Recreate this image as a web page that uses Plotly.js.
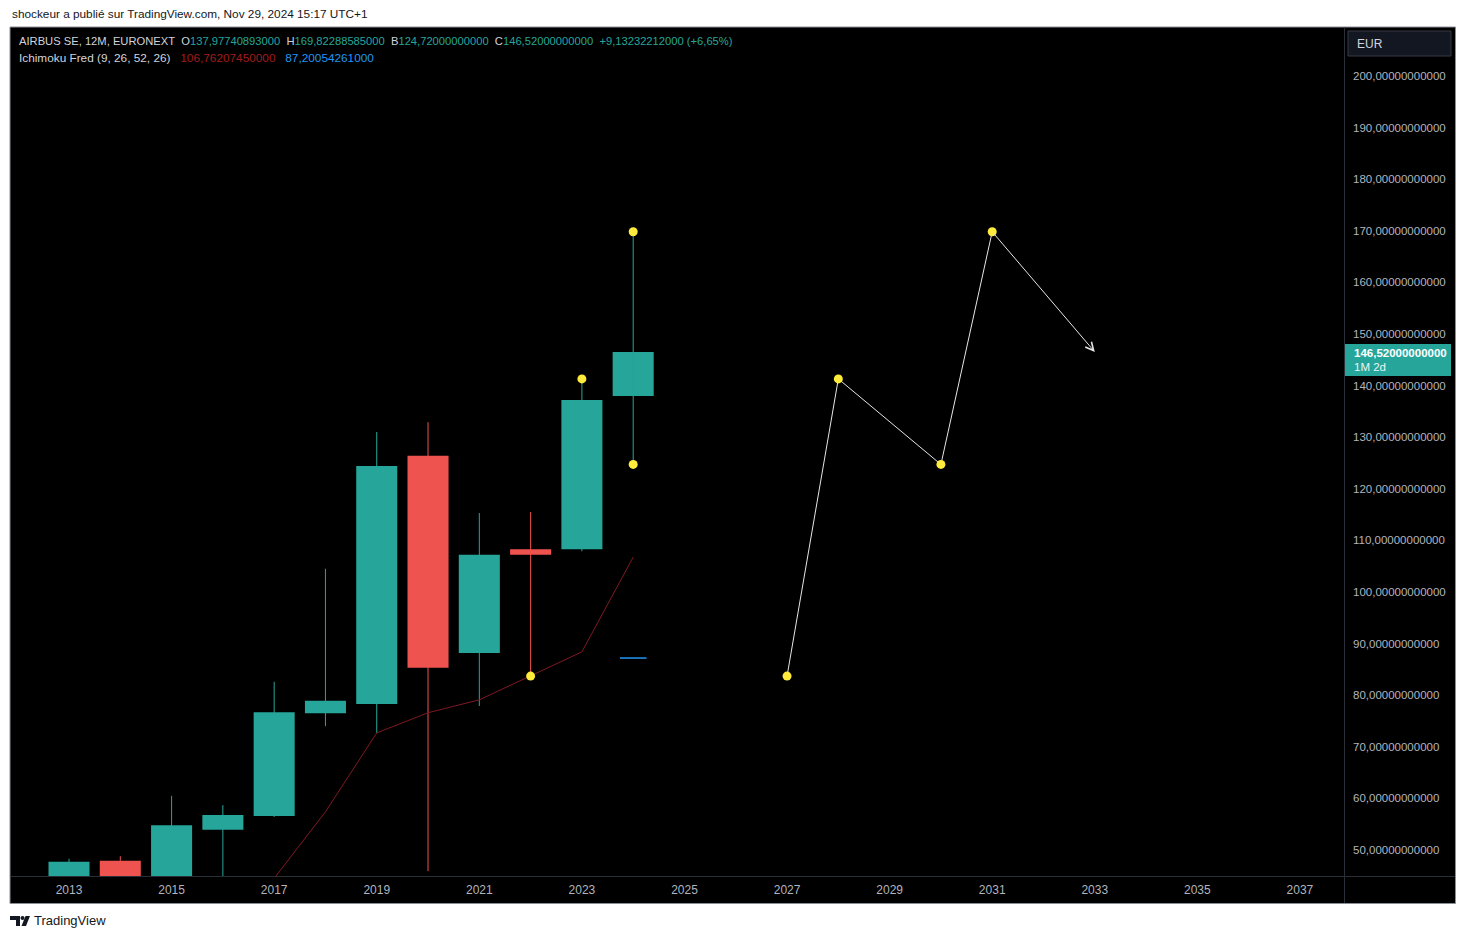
<!DOCTYPE html>
<html>
<head>
<meta charset="utf-8">
<script src="https://cdn.plot.ly/plotly-3.0.1.min.js"></script>
<style>
html,body{margin:0;padding:0;background:#fff;}
#chart{width:1466px;height:939px;}
</style>
</head>
<body>
<div id="chart"></div>
<script>
// ---- data ----
const years   = [2013, 2014, 2015, 2016, 2017, 2018, 2019, 2020, 2021, 2022, 2023, 2024];
const opens   = [30.0, 47.9, 41.5, 53.9, 56.6, 76.5, 78.3, 126.4, 88.2, 108.3, 108.3, 137.98];
const highs   = [48.3, 48.8, 60.5, 58.7, 82.6, 104.5, 131.0, 132.9, 115.3, 115.5, 141.3, 169.82];
const lows    = [28.0, 38.5, 38.0, 40.0, 56.4, 74.0, 72.7, 45.9, 77.9, 83.7, 107.9, 124.72];
const closes  = [47.7, 41.5, 54.8, 56.8, 76.7, 78.9, 124.4, 85.3, 107.2, 107.2, 137.2, 146.52];

const tenkanYears = [2017, 2018, 2019, 2020, 2021, 2022, 2023, 2024];
const tenkan      = [44.5, 57.4, 72.7, 76.6, 79.1, 83.7, 88.4, 106.76];
const kijunYears  = [2024];
const kijun       = [87.2];

const pivotYears  = [2022, 2023, 2024, 2024];
const pivotValues = [83.7, 141.3, 169.82, 124.72];

const projYears   = [2027, 2028, 2030, 2031];
const projValues  = [83.7, 141.3, 124.72, 169.82];
const projEndYear = 2033;
const projEnd     = 146.52;

const xTickVals   = [2013, 2015, 2017, 2019, 2021, 2023, 2025, 2027, 2029, 2031, 2033, 2035, 2037];
const xTickLabels = ['2013','2015','2017','2019','2021','2023','2025','2027','2029','2031','2033','2035','2037'];
const yTickVals   = [50, 60, 70, 80, 90, 100, 110, 120, 130, 140, 150, 160, 170, 180, 190, 200];
const yTickLabels = ['50,00000000000','60,00000000000','70,00000000000','80,00000000000','90,00000000000',
  '100,00000000000','110,00000000000','120,00000000000','130,00000000000','140,00000000000',
  '150,00000000000','160,00000000000','170,00000000000','180,00000000000','190,00000000000','200,00000000000'];

// ---- styles ----
const UP = '#26a69a', DOWN = '#ef5350';
const FONT = 'Liberation Sans, Arial, sans-serif';
const L = 11, R = 1344, T = 28, B = 876;
const px = x => (x - L) / (R - L);
const py = y => (B - y) / (B - T);

// candle bodies
const bodyBase = [], bodyLen = [], bodyCol = [];
for (let i = 0; i < years.length; i++) {
  const up = closes[i] >= opens[i];
  bodyBase.push(Math.min(opens[i], closes[i]));
  bodyLen.push(Math.max(Math.abs(closes[i] - opens[i]), 0.15));
  bodyCol.push(up ? UP : DOWN);
}
// wicks
const wUpX = [], wUpY = [], wDnX = [], wDnY = [];
for (let i = 0; i < years.length; i++) {
  const up = closes[i] >= opens[i];
  (up ? wUpX : wDnX).push(years[i], years[i], null);
  (up ? wUpY : wDnY).push(lows[i], highs[i], null);
}

const traces = [
  {type:'scatter', mode:'lines', x:wUpX, y:wUpY, line:{color:UP, width:1}, hoverinfo:'skip'},
  {type:'scatter', mode:'lines', x:wDnX, y:wDnY, line:{color:DOWN, width:1}, hoverinfo:'skip'},
  {type:'bar', x:years, y:bodyLen, base:bodyBase, width:0.8, marker:{color:bodyCol, line:{width:0}}, hoverinfo:'skip'},
  {type:'scatter', mode:'lines', x:tenkanYears, y:tenkan, line:{color:'#801922', width:1}, hoverinfo:'skip'},
  {type:'scatter', mode:'markers', x:kijunYears, y:kijun, marker:{symbol:'line-ew', size:19, line:{color:'#2196f3', width:1.5}}, hoverinfo:'skip'},
  {type:'scatter', mode:'lines', x:projYears, y:projValues, line:{color:'#e6e6e6', width:1}, hoverinfo:'skip'},
  {type:'scatter', mode:'markers', x:pivotYears.concat(projYears), y:pivotValues.concat(projValues),
   marker:{color:'#ffeb3b', size:9, line:{width:0}}, hoverinfo:'skip'}
];

const sp = '\u00a0';
const g = s => `<span style="color:#d1d4dc">${s}</span>`;
const t = s => `<span style="color:${UP}">${s}</span>`;
const line1 = g('AIRBUS SE, 12M, EURONEXT' + sp + sp + 'O') + t('137,97740893000') + sp + sp +
  g('H') + t('169,82288585000') + sp + sp + g('B') + t('124,72000000000') + sp + sp +
  g('C') + t('146,52000000000') + sp + sp + t('+9,13232212000 (+6,65%)');
const line2 = g('Ichimoku Fred (9, 26, 52, 26)') + sp + sp + sp +
  '<span style="color:#a01c1c">106,76207450000</span>' + sp + sp + sp +
  '<span style="color:#2196f3">87,20054261000</span>';

// TradingView logo path (paper coordinates)
const P = (x, y) => px(x).toFixed(5) + ',' + py(y).toFixed(5);
const logoT = `M${P(10,916)} L${P(20,916)} L${P(20,926)} L${P(16,926)} L${P(16,920)} L${P(10,920)} Z`;
const logoS = `M${P(25.5,916)} L${P(30,916)} L${P(26,926)} L${P(21.5,926)} Z`;

const layout = {
  width:1466, height:939,
  margin:{l:L, r:1466-R, t:T, b:939-B, pad:0},
  paper_bgcolor:'#ffffff', plot_bgcolor:'#000000',
  showlegend:false, hovermode:false, barmode:'overlay',
  font:{family:FONT, color:'#b2b5be', size:11},
  xaxis:{range:[2011.869, 2037.859], tickvals:xTickVals, ticktext:xTickLabels,
    showgrid:false, zeroline:false, showline:false, ticks:'', ticklabelstandoff:5,
    tickfont:{size:12, color:'#b2b5be', family:FONT}, fixedrange:true},
  yaxis:{range:[44.96, 209.3], side:'right', tickvals:yTickVals, ticktext:yTickLabels,
    showgrid:false, zeroline:false, showline:false, ticks:'', ticklabelstandoff:8,
    tickfont:{size:11.5, color:'#b2b5be', family:FONT}, fixedrange:true},
  shapes:[
    {type:'rect', xref:'paper', yref:'paper', x0:px(10), x1:px(1455.5), y0:py(903.5), y1:py(27),
     fillcolor:'#000000', line:{color:'#8a8e97', width:1}, layer:'below'},
    {type:'line', xref:'paper', yref:'paper', x0:px(1344.5), x1:px(1344.5), y0:py(903), y1:py(27.5),
     line:{color:'#2a2e39', width:1}, layer:'above'},
    {type:'line', xref:'paper', yref:'paper', x0:px(10.5), x1:px(1455), y0:py(876.5), y1:py(876.5),
     line:{color:'#2a2e39', width:1}, layer:'above'},
    {type:'rect', xref:'paper', yref:'paper', x0:px(1348), x1:px(1451), y0:py(56), y1:py(31),
     fillcolor:'#131722', line:{color:'#363a45', width:1}, layer:'above'},
    {type:'rect', xref:'paper', yref:'paper', x0:px(1345), x1:px(1451), y0:py(376), y1:py(344),
     fillcolor:UP, line:{width:0}, layer:'above'},
    {type:'path', xref:'paper', yref:'paper', path:logoT, fillcolor:'#131722', line:{width:0}, layer:'above'},
    {type:'path', xref:'paper', yref:'paper', path:logoS, fillcolor:'#131722', line:{width:0}, layer:'above'},
    {type:'circle', xref:'paper', yref:'paper', x0:px(20.5), x1:px(24.5), y0:py(920), y1:py(916),
     fillcolor:'#131722', line:{width:0}, layer:'above'}
  ],
  annotations:[
    {xref:'paper', yref:'paper', x:px(10), y:py(14), xanchor:'left', yanchor:'middle', showarrow:false,
     text:'shockeur a publié sur TradingView.com, Nov 29, 2024 15:17 UTC+1', font:{size:11.8, color:'#131722', family:FONT}},
    {xref:'paper', yref:'paper', x:px(17), y:py(41), xanchor:'left', yanchor:'middle', showarrow:false,
     text:line1, font:{size:11.2, family:FONT}},
    {xref:'paper', yref:'paper', x:px(17), y:py(58), xanchor:'left', yanchor:'middle', showarrow:false,
     text:line2, font:{size:11.8, family:FONT}},
    {xref:'paper', yref:'paper', x:px(1355), y:py(44), xanchor:'left', yanchor:'middle', showarrow:false,
     text:'EUR', font:{size:12, color:'#d1d4dc', family:FONT}},
    {xref:'paper', yref:'paper', x:px(1352), y:py(353), xanchor:'left', yanchor:'middle', showarrow:false,
     text:'<b>146,52000000000</b>', font:{size:11.5, color:'#ffffff', family:FONT}},
    {xref:'paper', yref:'paper', x:px(1352), y:py(367), xanchor:'left', yanchor:'middle', showarrow:false,
     text:'1M 2d', font:{size:11.5, color:'#e8f5f3', family:FONT}},
    {xref:'paper', yref:'paper', x:px(32), y:py(921), xanchor:'left', yanchor:'middle', showarrow:false,
     text:'TradingView', font:{size:13, color:'#131722', family:FONT}},
    {xref:'x', yref:'y', axref:'x', ayref:'y', x:projEndYear, y:projEnd,
     ax:projYears[projYears.length-1], ay:projValues[projValues.length-1],
     text:'', showarrow:true, arrowhead:5, arrowsize:1.6, arrowwidth:1, arrowcolor:'#e6e6e6', standoff:0}
  ]
};

Plotly.newPlot('chart', traces, layout, {staticPlot:true, displayModeBar:false});
</script>
</body>
</html>
